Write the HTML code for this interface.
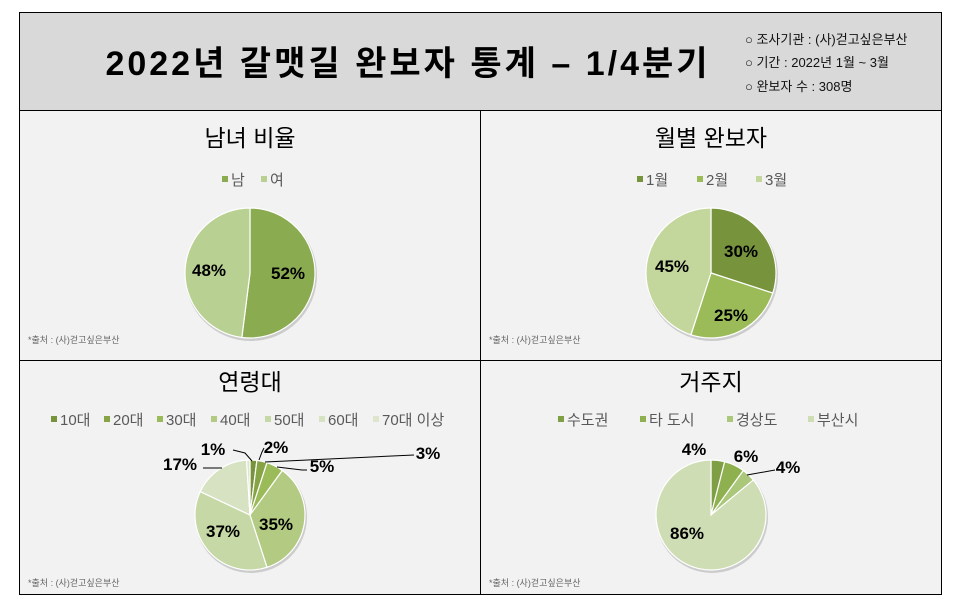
<!DOCTYPE html>
<html><head><meta charset="utf-8"><style>
body{margin:0;background:#fff;width:960px;height:600px;overflow:hidden;font-family:"Liberation Sans","Noto Sans CJK KR",sans-serif}
</style></head><body>
<svg id="s" width="960" height="600" xmlns="http://www.w3.org/2000/svg" font-family="Liberation Sans, Noto Sans CJK KR, sans-serif">
<rect x="19.5" y="12.5" width="922" height="582" fill="#f2f2f2" stroke="#000"/>
<rect x="19.5" y="12.5" width="922" height="98" fill="#d9d9d9" stroke="#000"/>
<line x1="480.5" y1="110" x2="480.5" y2="594" stroke="#000"/>
<line x1="19" y1="360.5" x2="941" y2="360.5" stroke="#000"/>
<text x="408" y="75" font-size="34" font-weight="bold" letter-spacing="3" text-anchor="middle" fill="#000">2022년 갈맷길 완보자 통계 – 1/4분기</text>
<g font-size="13" fill="#111">
<text x="745" y="44">○ 조사기관 : (사)걷고싶은부산</text>
<text x="745" y="67">○ 기간 : 2022년 1월 ~ 3월</text>
<text x="745" y="91">○ 완보자 수 : 308명</text>
</g>
<g font-size="23" text-anchor="middle" fill="#000">
<text x="250" y="146">남녀 비율</text>
<text x="711" y="146">월별 완보자</text>
<text x="250" y="390">연령대</text>
<text x="711" y="390">거주지</text>
</g>
<g font-size="9" fill="#666">
<text x="28" y="343">*출처 : (사)걷고싶은부산</text>
<text x="489" y="343">*출처 : (사)걷고싶은부산</text>
<text x="28" y="586">*출처 : (사)걷고싶은부산</text>
<text x="489" y="586">*출처 : (사)걷고싶은부산</text>
</g>
<g id="pies"></g>
<g font-size="15" fill="#595959" id="leg"></g>
<g font-size="17" font-weight="bold" fill="#000" text-anchor="middle">
<text x="288" y="279">52%</text><text x="209" y="276">48%</text>
<text x="741" y="257">30%</text><text x="731" y="321">25%</text><text x="672" y="272">45%</text>
<text x="276" y="453">2%</text><text x="428" y="459">3%</text><text x="322" y="472">5%</text>
<text x="213" y="455">1%</text><text x="180" y="470">17%</text>
<text x="276" y="530">35%</text><text x="223" y="537">37%</text>
<text x="694" y="455">4%</text><text x="746" y="462">6%</text><text x="788" y="473">4%</text>
<text x="687" y="539">86%</text>
</g>
<g stroke="#000" fill="none" stroke-width="1">
<polyline points="233,450 245,453 252,461"/>
<polyline points="259,460 262,452 264,448"/>
<polyline points="265,462 414,455"/>
<polyline points="277,467 302,470 307,470"/>
<polyline points="203,468 222,468"/>
<polyline points="747,475 775,470"/>
</g>
</svg>
<script>
const g=document.getElementById('pies');const NS='http://www.w3.org/2000/svg';
function pie(cx,cy,r,vals,cols){let a=0;const tot=vals.reduce((x,y)=>x+y,0);
 const c=document.createElementNS(NS,'circle');c.setAttribute('cx',cx+1);c.setAttribute('cy',cy+2);c.setAttribute('r',r+1);c.setAttribute('fill','#ccc');g.appendChild(c);
 vals.forEach((v,i)=>{const a0=a/tot*2*Math.PI;a+=v;const a1=a/tot*2*Math.PI;
 const x0=cx+r*Math.sin(a0),y0=cy-r*Math.cos(a0),x1=cx+r*Math.sin(a1),y1=cy-r*Math.cos(a1);
 const p=document.createElementNS(NS,'path');p.setAttribute('d',`M${cx},${cy}L${x0},${y0}A${r},${r} 0 ${(a1-a0)>Math.PI?1:0} 1 ${x1},${y1}Z`);
 p.setAttribute('fill',cols[i]);p.setAttribute('stroke','#fff');p.setAttribute('stroke-width','1.2');g.appendChild(p);});}
pie(250,273,65,[52,48],['#8aab50','#b9d093']);
pie(711,273,65,[30,25,45],['#77933c','#9bbb59','#c3d69b']);
pie(250,515,55,[2,3,5,35,37,17,1],['#77933c','#86a445','#9bbb59','#b2ca82','#c6d8a6','#d6e2c2','#dde6cd']);
pie(711,515,55,[4,6,4,86],['#7f9f45','#8fb04f','#aac77a','#cfddb5']);
const L=document.getElementById('leg');
function leg(items,y){items.forEach(([x,t,c])=>{const r=document.createElementNS(NS,'rect');r.setAttribute('x',x);r.setAttribute('y',y-9);r.setAttribute('width',6);r.setAttribute('height',6);r.setAttribute('fill',c);L.appendChild(r);
 const tx=document.createElementNS(NS,'text');tx.setAttribute('x',x+9);tx.setAttribute('y',y);tx.textContent=t;L.appendChild(tx);});}
leg([[222,'남','#8aab50'],[261,'여','#b9d093']],185);
leg([[637,'1월','#77933c'],[697,'2월','#9bbb59'],[756,'3월','#c3d69b']],185);
leg([[51,'10대','#77933c'],[104,'20대','#86a445'],[157,'30대','#9bbb59'],[211,'40대','#b2ca82'],[265,'50대','#c6d8a6'],[319,'60대','#d6e2c2'],[373,'70대 이상','#dde6cd']],425);
leg([[558,'수도권','#7f9f45'],[640,'타 도시','#8fb04f'],[727,'경상도','#aac77a'],[808,'부산시','#cfddb5']],425);
</script>
</body></html>
